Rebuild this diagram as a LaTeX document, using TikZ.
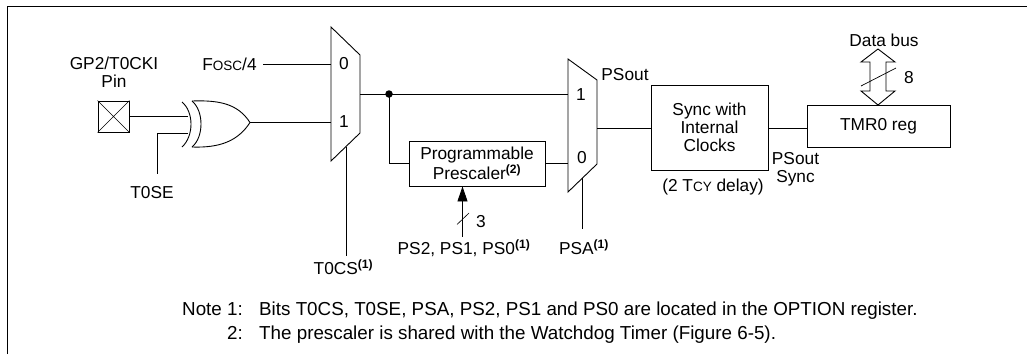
\documentclass[tikz,border=0pt]{standalone}
\usepackage{fontspec}
\setmainfont{Liberation Sans}
\usetikzlibrary{arrows.meta}
\newcommand{\smc}[1]{{\fontsize{13.5}{13.5}\selectfont #1}}
\newcommand{\supb}[1]{\textsuperscript{\textbf{#1}}}
\tikzset{
  lbl/.style={inner sep=0pt,align=center,font=\fontsize{17.3}{18}\selectfont},
  nt/.style={inner sep=0pt,font=\fontsize{18.8}{20}\selectfont},
  wire/.style={draw=black,line width=0.9pt},
  bx/.style={draw=black,line width=0.9pt,inner sep=0pt,align=center,font=\fontsize{17.3}{18}\selectfont},
}
\begin{document}
\begin{tikzpicture}[x=1pt,y=-1pt,line join=miter]
\useasboundingbox (0,0) rectangle (1027,354);
% frame
\coordinate (fa) at (7.5,354); \coordinate (fb) at (7.5,6); \coordinate (fc) at (1027,6);
\draw[wire] (fa) -- (fb) -- (fc);
% pin
\node[bx,minimum width=31,minimum height=31] (pin) at (113.5,116.5) {};
\draw[line width=0.6pt] (pin.north west) -- (pin.south east) (pin.north east) -- (pin.south west);
\node[lbl] (pinl) at (114,72) {GP2/T0CKI\\Pin};
% xor
\coordinate (xa) at (192,101); \coordinate (xb) at (192,147); \coordinate (xo) at (250,122.5);
\coordinate (xi1) at (188,116.5); \coordinate (xi2) at (187.5,133);
\draw[wire] (182,102) .. controls (194,112) and (194,136) .. (182,147);
\draw[wire] (xa) .. controls (204,111) and (204,137) .. (xb);
\draw[wire] (xa) .. controls (220,100) and (238,104) .. (xo) .. controls (238,141) and (220,148) .. (xb);
\draw[wire] (pin.east |- xi1) -- (xi1);
\coordinate (tc) at (157,133); \coordinate (te) at (157,173.5);
\draw[wire] (xi2) -- (tc) -- (te);
\node[lbl] (t0se) at (152,192.5) {T0SE};
% mux 1
\coordinate (m1a) at (331,27); \coordinate (m1b) at (360,55); \coordinate (m1c) at (360,133); \coordinate (m1d) at (331,161);
\draw[wire] (m1a) -- (m1b) -- (m1c) -- (m1d) -- cycle;
\node[lbl] (m10) at (344,64) {0};
\node[lbl] (m11) at (344,121.5) {1};
\node[lbl] (fosc) at (229.5,64) {F\smc{OSC}/4};
\coordinate (fe) at (263,64); \coordinate (m1i0) at (331,64); \coordinate (m1i1) at (331,122.5);
\draw[wire] (fe) -- (m1i0);
\draw[wire] (xo) -- (m1i1);
\coordinate (m1s) at (346.5,147); \coordinate (m1e) at (346.5,255.5);
\draw[wire] (m1s) -- (m1e);
\node[lbl] (t0cs) at (343.5,267.5) {T0CS\supb{(1)}};
% junction
\coordinate (m1o) at (360,94); \coordinate (m2i1) at (568,94);
\node[circle,fill=black,inner sep=0pt,minimum size=7.5pt] (dot) at (389,94) {};
\draw[wire] (m1o) -- (m2i1);
% prescaler
\node[bx,minimum width=136,minimum height=45] (pre) at (477,163.5) {Programmable\\Prescaler\supb{(2)}};
\draw[wire] (dot.center) |- (pre.west);
% mux 2
\coordinate (m2a) at (568,59); \coordinate (m2b) at (597,80); \coordinate (m2c) at (597,164); \coordinate (m2d) at (568,192);
\draw[wire] (m2a) -- (m2b) -- (m2c) -- (m2d) -- cycle;
\node[lbl] (m21) at (581,95) {1};
\node[lbl] (m20) at (582,158) {0};
\coordinate (m2i0) at (568,163.5);
\draw[wire] (pre.east) -- (m2i0);
\node[lbl] (psout) at (625,75) {PSout};
% prescaler select
\coordinate (ps3) at (462.5,236.5);
\draw[wire,-{Triangle[length=15pt,width=10pt]}] (ps3) -- (pre.south -| ps3);
\coordinate (sl1) at (457,224.5); \coordinate (sl2) at (469,213);
\draw[line width=0.6pt] (sl1) -- (sl2);
\node[lbl] (three) at (481,222) {3};
\node[lbl] (psl) at (464,248) {PS2, PS1, PS0\supb{(1)}};
% PSA
\coordinate (psa1) at (582,178); \coordinate (psa2) at (582,229);
\draw[wire] (psa1) -- (psa2);
\node[lbl] (psal) at (584,247.5) {PSA\supb{(1)}};
% sync
\node[bx,minimum width=117,minimum height=85] (sync) at (709.5,127.5) {Sync with\\Internal\\Clocks};
\coordinate (m2o) at (597,128);
\draw[wire] (m2o) -- (m2o -| sync.west);
\node[lbl] (delay) at (713,187) {(2 T\smc{CY} delay)};
% tmr0
\node[bx,minimum width=143,minimum height=42] (tmr) at (878.5,126) {TMR0 reg};
\draw[wire] (sync.east |- m2o) -- (tmr.west |- m2o);
\node[lbl] (sout) at (795.5,169) {PSout\\Sync};
% bus
\coordinate (bt) at (878,49);
\draw[wire,fill=white] (bt) -- (895,62) -- (886,62) -- (886,91) -- (895,91) -- (878,105) -- (861,91) -- (870,91) -- (870,62) -- (861,62) -- cycle;
\coordinate (s81) at (861,86); \coordinate (s82) at (896,68);
\draw[line width=0.7pt] (s81) -- (s82);
\node[lbl] (eight) at (909,78) {8};
\node[lbl] (dbus) at (884,40) {Data bus};
% notes
\node[nt,anchor=base east] (n1a) at (243,315) {Note 1:};
\node[nt,anchor=base west] (n1b) at (259,315) {Bits T0CS, T0SE, PSA, PS2, PS1 and PS0 are located in the OPTION register.};
\node[nt,anchor=base east] (n2a) at (243,339) {2:};
\node[nt,anchor=base west] (n2b) at (259,339) {The prescaler is shared with the Watchdog Timer (Figure 6-5).};
\end{tikzpicture}
\end{document}
